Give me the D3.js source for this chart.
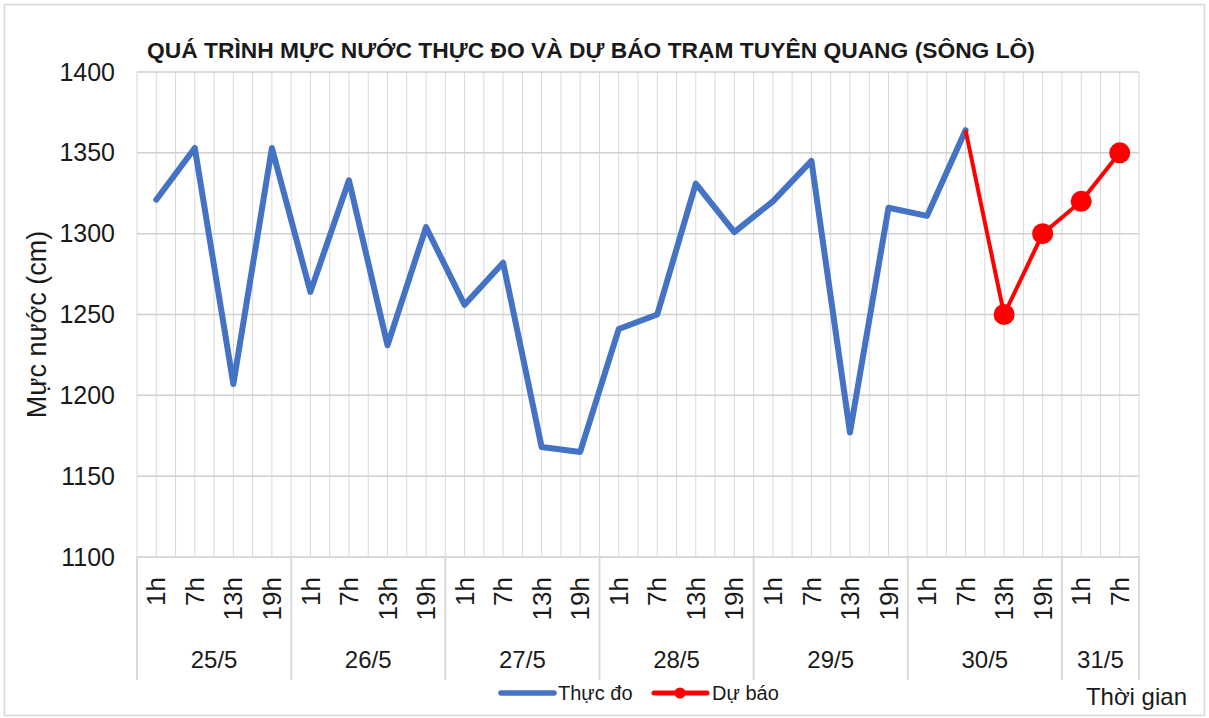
<!DOCTYPE html>
<html>
<head>
<meta charset="utf-8">
<script src="https://cdn.jsdelivr.net/npm/d3@7"></script>
<style>
  body { margin: 0; background: #fff; }
  svg text { font-family: "Liberation Sans Narrow", "Liberation Sans", sans-serif; fill: #1a1a1a; }
</style>
</head>
<body>
<svg width="1209" height="718"></svg>
<script>
// data
const dates = ["25/5", "26/5", "27/5", "28/5", "29/5", "30/5", "31/5"];
const hoursPerDate = [4, 4, 4, 4, 4, 4, 2];
const hourLabels = ["1h", "7h", "13h", "19h"];
const observed = [1321, 1353, 1207, 1353, 1264, 1333, 1231, 1304, 1256, 1282, 1168, 1165,
                  1241, 1250, 1331, 1301, 1320, 1345, 1177, 1316, 1311, 1364];
const forecastStart = 21; // 30/5 7h
const forecast = [1364, 1250, 1300, 1320, 1350];
const yTicks = [1100, 1150, 1200, 1250, 1300, 1350, 1400];

const plotLeft = 137, plotRight = 1139, plotTop = 72, plotBottom = 557;
const gridColor = "#d9d9d9";

// build the category list: one entry per (date, hour)
const cats = [];
dates.forEach((d, i) => {
    for (let j = 0; j < hoursPerDate[i]; j++) {
        cats.push({key: d + " " + hourLabels[j], date: d, hour: hourLabels[j]});
    }
});

const svg = d3.select("svg");

// outer border
svg.append("rect")
    .attr("x", 4.5).attr("y", 4.5)
    .attr("width", 1200).attr("height", 711)
    .attr("fill", "none")
    .attr("stroke", gridColor)
    .attr("stroke-width", 1.5);

const x = d3.scaleBand()
    .domain(cats.map(c => c.key))
    .range([plotLeft, plotRight])
    .padding(0);
const half = x.bandwidth() / 2;

const y = d3.scaleLinear()
    .domain([1100, 1400])
    .range([plotBottom, plotTop]);

// title: size it so that it spans about 887px
const title = svg.append("text")
    .attr("x", 591)
    .attr("y", 58)
    .attr("text-anchor", "middle")
    .attr("font-size", "24px")
    .attr("font-weight", "bold")
    .text("QUÁ TRÌNH MỰC NƯỚC THỰC ĐO VÀ DỰ BÁO TRẠM TUYÊN QUANG (SÔNG LÔ)");
const tw = title.node().getComputedTextLength();
title.attr("font-size", (24 * 887 / tw).toFixed(1) + "px");

// vertical grid: at each band edge and band centre
const grid = svg.append("g");
const vLines = [];
cats.forEach(c => { vLines.push(x(c.key)); vLines.push(x(c.key) + half); });
vLines.push(plotRight);
grid.selectAll("line.v").data(vLines).enter().append("line")
    .attr("class", "v")
    .attr("x1", d => d).attr("x2", d => d)
    .attr("y1", plotTop).attr("y2", plotBottom)
    .attr("stroke", gridColor)
    .attr("stroke-width", 1);

// horizontal grid
grid.selectAll("line.h").data(yTicks).enter().append("line")
    .attr("class", "h")
    .attr("x1", plotLeft).attr("x2", plotRight)
    .attr("y1", d => y(d)).attr("y2", d => y(d))
    .attr("stroke", "#d0d0d0")
    .attr("stroke-width", 1.5);

// y axis labels
const yAxis = svg.append("g")
    .attr("transform", `translate(${plotLeft}, 0)`)
    .call(d3.axisLeft(y).tickValues(yTicks).tickFormat(d3.format("d")).tickSize(0).tickPadding(22));
yAxis.select(".domain").remove();
yAxis.selectAll("text")
    .attr("font-size", "25px")
    .style("font-family", "\"Liberation Sans Narrow\", \"Liberation Sans\", sans-serif")
    .attr("fill", "#262626");

svg.append("text")
    .attr("transform", `translate(46, ${(plotTop + plotBottom) / 2 + 10}) rotate(-90)`)
    .attr("text-anchor", "middle")
    .attr("font-size", "27px")
    .text("Mực nước (cm)");

// x axis: hour labels (rotated) and date groups
const xg = svg.append("g");
xg.append("line")
    .attr("x1", plotLeft).attr("x2", plotRight)
    .attr("y1", plotBottom).attr("y2", plotBottom)
    .attr("stroke", gridColor)
    .attr("stroke-width", 2);

xg.selectAll("text.hour").data(cats).enter().append("text")
    .attr("class", "hour")
    .attr("transform", c => `translate(${x(c.key) + half}, 577) rotate(-90)`)
    .attr("text-anchor", "end")
    .attr("dy", "0.35em")
    .attr("font-size", "26px")
    .text(c => c.hour);

// date groups: separators and labels
const groups = dates.map(d => {
    const members = cats.filter(c => c.date === d);
    const x0 = x(members[0].key);
    const x1 = x(members[members.length - 1].key) + x.bandwidth();
    return {date: d, x0: x0, x1: x1};
});
const sepX = [plotLeft].concat(groups.map(g => g.x1));
xg.selectAll("line.sep").data(sepX).enter().append("line")
    .attr("class", "sep")
    .attr("x1", d => d).attr("x2", d => d)
    .attr("y1", plotBottom).attr("y2", 680)
    .attr("stroke", gridColor)
    .attr("stroke-width", 2);

xg.selectAll("text.date").data(groups).enter().append("text")
    .attr("class", "date")
    .attr("x", g => (g.x0 + g.x1) / 2)
    .attr("y", 668)
    .attr("text-anchor", "middle")
    .attr("font-size", "24px")
    .text(g => g.date);

svg.append("text")
    .attr("x", 1187)
    .attr("y", 705)
    .attr("text-anchor", "end")
    .attr("font-size", "24px")
    .text("Thời gian");

// series
const obsData = observed.map((v, i) => ({key: cats[i].key, v: v}));
const fcData = forecast.map((v, i) => ({key: cats[forecastStart + i].key, v: v}));

const line = d3.line()
    .x(d => x(d.key) + half)
    .y(d => y(d.v));

svg.append("path")
    .datum(obsData)
    .attr("d", line)
    .attr("fill", "none")
    .attr("stroke", "#4472C4")
    .attr("stroke-width", 6)
    .attr("stroke-linejoin", "round")
    .attr("stroke-linecap", "round");

svg.append("path")
    .datum(fcData)
    .attr("d", line)
    .attr("fill", "none")
    .attr("stroke", "#FF0000")
    .attr("stroke-width", 4)
    .attr("stroke-linejoin", "round");

svg.selectAll("circle.fc").data(fcData.slice(1)).enter().append("circle")
    .attr("class", "fc")
    .attr("cx", d => x(d.key) + half)
    .attr("cy", d => y(d.v))
    .attr("r", 10.5)
    .attr("fill", "#FF0000");

// legend
const legend = svg.append("g").attr("transform", "translate(0, 693)");
legend.append("line")
    .attr("x1", 501).attr("x2", 554)
    .attr("stroke", "#4472C4").attr("stroke-width", 5.5)
    .attr("stroke-linecap", "round");
legend.append("text")
    .attr("x", 558).attr("y", 7)
    .attr("font-size", "20px")
    .text("Thực đo");
legend.append("line")
    .attr("x1", 654).attr("x2", 707)
    .attr("stroke", "#FF0000").attr("stroke-width", 5)
    .attr("stroke-linecap", "round");
legend.append("circle")
    .attr("cx", 680).attr("r", 5.5)
    .attr("fill", "#FF0000");
legend.append("text")
    .attr("x", 712).attr("y", 7)
    .attr("font-size", "20px")
    .text("Dự báo");
</script>
</body>
</html>
